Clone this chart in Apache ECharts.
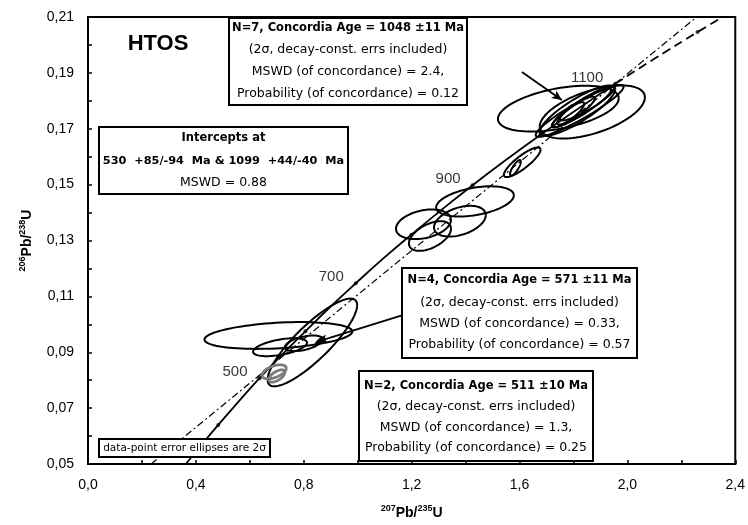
<!DOCTYPE html>
<html><head><meta charset="utf-8">
<script src="https://cdn.jsdelivr.net/npm/echarts@6/dist/echarts.min.js"></script>
<style>html,body{margin:0;padding:0;background:#fff}#c{width:748px;height:525px}</style>
</head><body><div id="c"></div>
<script>
// ---- tick labels ----
const xTickLabels = ['0,0','0,4','0,8','1,2','1,6','2,0','2,4'];
const yTickLabels = ['0,05','0,07','0,09','0,11','0,13','0,15','0,17','0,19','0,21'];

// ---- concordia curve (207Pb/235U, 206Pb/238U) ----
const concordiaX = [0.363,0.412,0.483,0.558,0.636,0.719,0.806,0.897,0.993,1.093,1.199,1.310,1.426,1.549,1.677,1.813,1.955,2.104,2.260,2.354];
const concordiaY = [0.0500,0.0558,0.0640,0.0723,0.0807,0.0891,0.0975,0.1061,0.1147,0.1234,0.1321,0.1409,0.1498,0.1588,0.1678,0.1769,0.1861,0.1953,0.2046,0.2100];

// ---- age tick marks on concordia (400..1200 Ma) ----
const markerX = [0.483,0.636,0.806,0.993,1.199,1.426,1.677,1.955,2.260];
const markerY = [0.0640,0.0807,0.0975,0.1147,0.1321,0.1498,0.1678,0.1861,0.2046];

// ---- age labels ----
const ageLabels = ['500','700','900','1100'];
const ageLabelX = [0.636,0.993,1.426,1.955];
const ageLabelY = [0.0807,0.1147,0.1498,0.1861];

// ---- discordia line (intercepts 530 & 1099 Ma) ----
const discordiaX = [0.234,2.257];
const discordiaY = [0.050,0.210];

// ---- data-point error ellipses: [cx, cy, halfWidthX, halfWidthY, rho] ----
const outlineEllipses = [
  [0.706,0.0960,0.274,0.0048,0.30],
  [0.832,0.0935,0.166,0.0157,0.85],
  [0.712,0.0918,0.100,0.0032,0.50],
  [0.800,0.0932,0.070,0.0028,0.50],
  [1.610,0.1580,0.068,0.0053,0.85],
  [1.585,0.1560,0.020,0.0028,0.80],
  [1.435,0.1440,0.144,0.0054,0.40],
  [1.379,0.1369,0.096,0.0055,0.40],
  [1.244,0.1358,0.102,0.0053,0.30],
  [1.268,0.1316,0.078,0.0053,0.50],
  [1.744,0.1772,0.224,0.0082,0.45],
  [1.870,0.1760,0.195,0.0095,0.55],
  [1.823,0.1764,0.163,0.0093,0.93],
  [1.815,0.1765,0.140,0.0090,0.85],
  [1.830,0.1775,0.110,0.0070,0.92],
  [1.800,0.1760,0.080,0.0055,0.90],
  [1.790,0.1755,0.050,0.0040,0.85],
  [1.850,0.1790,0.100,0.0060,0.90]
];
const greyEllipses = [
  [0.690,0.0830,0.045,0.0025,0.50],
  [0.700,0.0815,0.030,0.0022,0.60]
];
// concordia-age ellipses (filled)
const ageEllipses = [
  [1.785,0.1775,0.016,0.0013,0.90],
  [0.858,0.0940,0.016,0.0015,0.80]
];

// ---- arrows from boxes to concordia ages ----
const arrowFrom = [[1.609,0.1903],[1.161,0.1031]];
const arrowTo   = [[1.757,0.1803],[0.851,0.0938]];

function zipXY(xs, ys){ return xs.map((x,i)=>[x, ys[i]]); }

function ellipseRenderer(stroke, fill, width){
  return function(params, api){
    const cx = api.value(0), cy = api.value(1), sx = api.value(2), sy = api.value(3), r = api.value(4);
    const k = Math.sqrt(1 - r*r);
    const pts = [];
    for (let i = 0; i <= 90; i++){
      const t = i / 90 * Math.PI * 2;
      pts.push(api.coord([cx + sx*Math.cos(t), cy + sy*(r*Math.cos(t) + k*Math.sin(t))]));
    }
    return {
      type: fill ? 'polygon' : 'polyline',
      shape: { points: pts },
      style: fill ? { fill: fill, stroke: stroke, lineWidth: width } : { fill: null, stroke: stroke, lineWidth: width }
    };
  };
}

const chart = echarts.init(document.getElementById('c'), null, {renderer:'canvas'});
const FONT = 'Liberation Sans, Arial, sans-serif';
const BOXFONT = '"DejaVu Sans", sans-serif';

function box(x, y, w, h, cx, lines){
  const els = [{type:'rect', shape:{x:x, y:y, width:w, height:h}, style:{fill:'#fff', stroke:'#000', lineWidth:2}, z:100}];
  lines.forEach(l => {
    els.push({type:'text', x:cx, y:l[0], z:101, style:{text:l[1], align:'center', verticalAlign:'middle',
      font:(l[2] ? 'bold ' + l[2] + 'px ' : '12.5px ') + BOXFONT, fill:'#000'}});
  });
  return els;
}

let graphics = [];
graphics = graphics.concat(box(229,18,238,87,348,[
  [28,'N=7, Concordia Age = 1048 ±11 Ma',11.5],
  [50,'(2σ, decay-const. errs included)'],
  [72,'MSWD (of concordance) = 2.4,'],
  [94,'Probability (of concordance) = 0.12']
]));
graphics = graphics.concat(box(99,127,249,67,223.5,[
  [138,'Intercepts at',11.5],
  [161,'530  +85/-94  Ma & 1099  +44/-40  Ma',11.3],
  [183,'MSWD = 0.88']
]));
graphics = graphics.concat(box(402,268,235,90,519.5,[
  [280,'N=4, Concordia Age = 571 ±11 Ma',11.5],
  [303,'(2σ, decay-const. errs included)'],
  [324,'MSWD (of concordance) = 0.33,'],
  [345,'Probability (of concordance) = 0.57']
]));
graphics = graphics.concat(box(359,371,234,90,476,[
  [386,'N=2, Concordia Age = 511 ±10 Ma',11.5],
  [407,'(2σ, decay-const. errs included)'],
  [428,'MSWD (of concordance) = 1.3,'],
  [448,'Probability (of concordance) = 0.25']
]));
graphics.push({type:'rect', shape:{x:99,y:439,width:171,height:18}, style:{fill:'#fff', stroke:'#000', lineWidth:2}, z:100});
graphics.push({type:'text', x:184.5, y:448, z:101, style:{text:'data-point error ellipses are 2σ', align:'center', verticalAlign:'middle', font:'10.5px ' + BOXFONT, fill:'#000'}});
graphics.push({type:'text', x:158, y:44, z:101, style:{text:'HTOS', align:'center', verticalAlign:'middle', font:'bold 22px ' + FONT, fill:'#000'}});

const option = {
  animation: false,
  backgroundColor: '#fff',
  grid: {left:88, right:11, top:17, bottom:59, show:true, borderColor:'#000', borderWidth:2, backgroundColor:'transparent'},
  xAxis: {
    type:'value', min:0, max:2.4, interval:0.2,
    name:'{s|207}{m|Pb/}{s|235}{m|U}', nameLocation:'middle', nameGap:40,
    nameTextStyle:{rich:{
      s:{fontSize:9, fontWeight:'bold', fontFamily:FONT, color:'#000', verticalAlign:'top', lineHeight:16},
      m:{fontSize:14, fontWeight:'bold', fontFamily:FONT, color:'#000', verticalAlign:'bottom', lineHeight:16}}},
    axisLine:{show:true, lineStyle:{color:'#000', width:2}},
    axisTick:{show:true, inside:true, length:4, lineStyle:{color:'#000', width:1.5}},
    splitLine:{show:false},
    axisLabel:{color:'#000', fontSize:14, fontFamily:FONT, margin:14,
      formatter: v => { const i = Math.round(v/0.2); return i % 2 ? '' : xTickLabels[i/2]; }}
  },
  yAxis: {
    type:'value', min:0.05, max:0.21, interval:0.01,
    name:'{s|206}{m|Pb/}{s|238}{m|U}', nameLocation:'middle', nameGap:54, nameRotate:90,
    nameTextStyle:{rich:{
      s:{fontSize:9, fontWeight:'bold', fontFamily:FONT, color:'#000', verticalAlign:'top', lineHeight:16},
      m:{fontSize:14, fontWeight:'bold', fontFamily:FONT, color:'#000', verticalAlign:'bottom', lineHeight:16}}},
    axisLine:{show:true, lineStyle:{color:'#000', width:2}},
    axisTick:{show:true, inside:true, length:4, lineStyle:{color:'#000', width:1.5}},
    splitLine:{show:false},
    axisLabel:{color:'#000', fontSize:14, fontFamily:FONT, margin:14,
      formatter: v => { const i = Math.round((v-0.05)/0.01); return i % 2 ? '' : yTickLabels[i/2]; }}
  },
  graphic: graphics,
  series: [
    {type:'custom', name:'ellipses', renderItem: ellipseRenderer('#000', null, 2), data: outlineEllipses, encode:{x:0, y:1}, z:3, silent:true},
    {type:'custom', name:'grey', renderItem: ellipseRenderer('#7a7a7a', null, 2.8), data: greyEllipses, encode:{x:0, y:1}, z:3, silent:true},
    {type:'custom', name:'ageEllipses', renderItem: ellipseRenderer('#000', '#000', 1), data: ageEllipses, encode:{x:0, y:1}, z:4, silent:true},
    {type:'line', name:'concordia', data: zipXY(concordiaX, concordiaY).slice(0,17), smooth:true, symbol:'none',
      lineStyle:{color:'#000', width:1.8}, z:2, silent:true},
    {type:'line', name:'concordia2', data: zipXY(concordiaX, concordiaY).slice(16), smooth:true, symbol:'none',
      lineStyle:{color:'#000', width:1.8, type:[9,5]}, z:2, silent:true},
    {type:'line', name:'discordia', data: zipXY(discordiaX, discordiaY), symbol:'none',
      lineStyle:{color:'#000', width:1.2, type:[7,3,2,3]}, z:2, silent:true,
      markLine:{silent:true, symbol:['none','arrow'], symbolSize:[7,10], label:{show:false},
        lineStyle:{color:'#000', width:1.8, type:'solid'},
        data: arrowFrom.map((f,i)=>[{coord:f},{coord:arrowTo[i]}])}},
    {type:'scatter', name:'ticks', data: zipXY(markerX, markerY), symbol:'circle', symbolSize:4,
      itemStyle:{color:'#000'}, z:5, silent:true},
    {type:'scatter', name:'ageLabels', data: zipXY(ageLabelX, ageLabelY), symbolSize:0, z:5, silent:true,
      label:{show:true, position:'left', distance:12, offset:[0,-6], color:'#000', fontSize:15, fontFamily:FONT,
        formatter: p => ageLabels[p.dataIndex]}}
  ]
};
chart.setOption(option);
</script></body></html>
